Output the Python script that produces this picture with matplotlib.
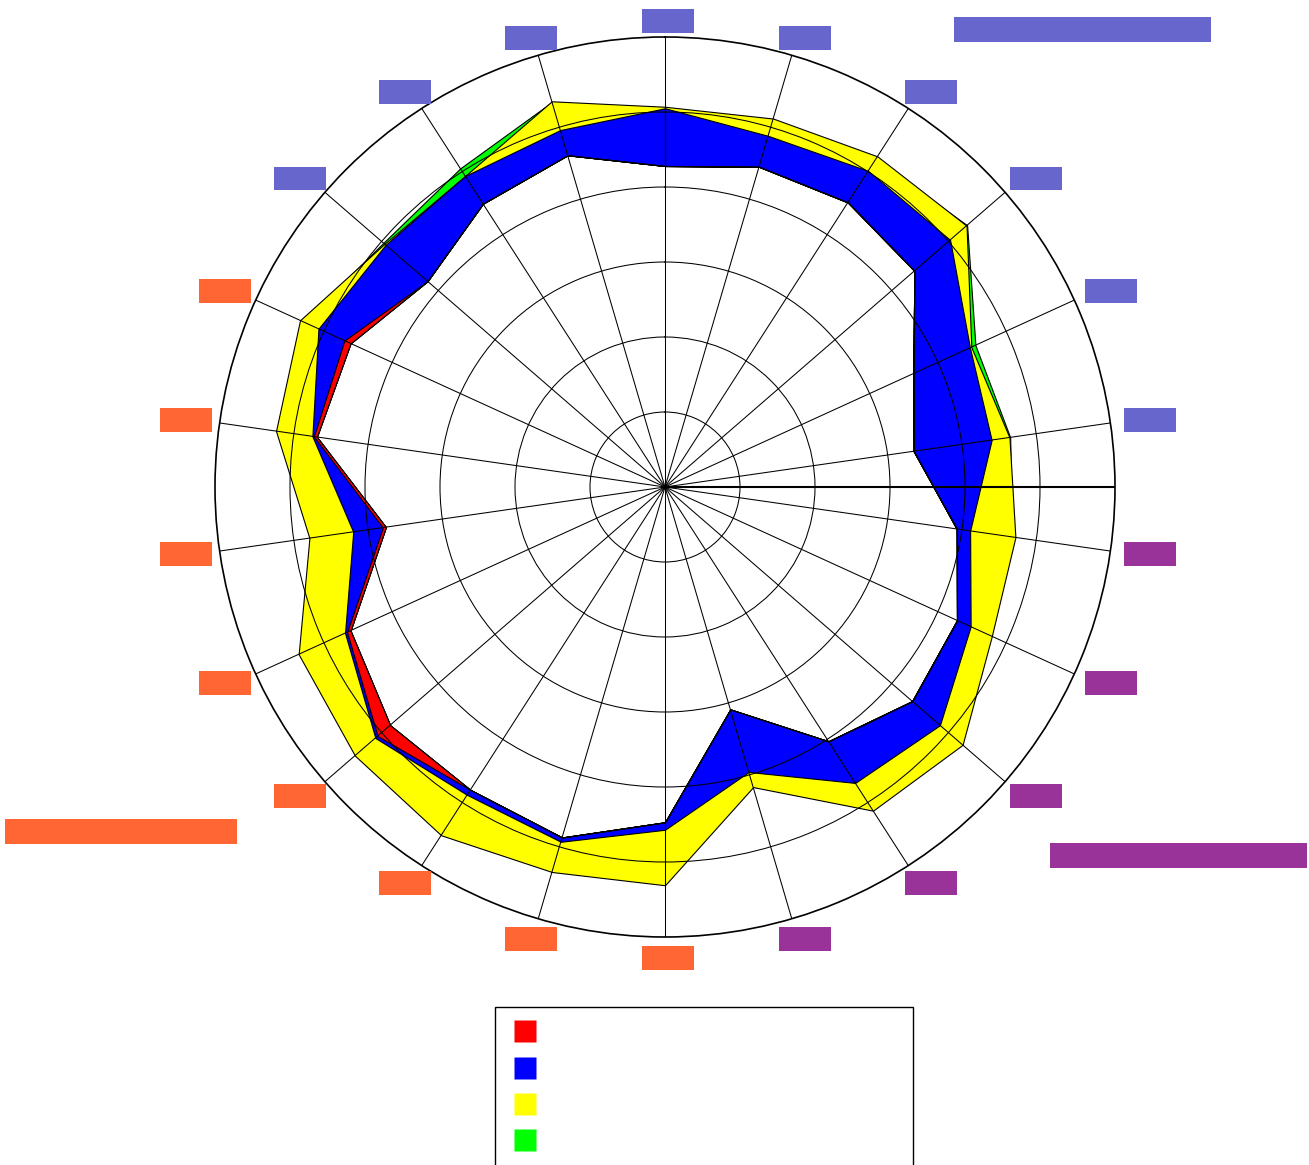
import numpy as np
import matplotlib.pyplot as plt
from matplotlib.lines import Line2D

W, H = 1309, 1165

# spoke categories, clockwise from the top
categories = ["C-01", "C-02", "C-03", "C-04", "C-05", "C-06",
              "C-07", "C-08", "C-09", "C-10", "C-11",
              "C-12", "C-13", "C-14", "C-15", "C-16", "C-17", "C-18", "C-19",
              "C-20", "C-21", "C-22"]
label_colors = (["#6666CC"] * 6 + ["#993399"] * 5 +
                ["#FF6633"] * 8 + ["#6666CC"] * 3)

group_names = ["Group A - first block",
               "Group B - second set",
               "Group C - third set"]
group_colors = ["#6666CC", "#993399", "#FF6633"]
group_pos_px = [(1082.5, 29.5), (1178.5, 855.5), (121, 831.5)]
group_box_px = [(257, 25), (257, 25), (230, 25)]

series_names = ["Series A", "Series B", "Series C", "Series D"]
series_colors = ["#FF0000", "#0000FF", "#FFFF00", "#00FF00"]

# inner edge shared by all bands
base = [42.8, 44.5, 45.1, 44.0, 36.4, 33.5, 39.3, 42.8, 43.6, 40.3, 30.9,
        44.7, 48.7, 48.0, 48.5, 46.1, 37.6, 46.9, 46.1, 41.9, 44.9, 46.1]
red_top = [42.8, 44.5, 45.1, 44.0, 36.4, 33.5, 39.3, 42.8, 43.6, 40.3, 30.9,
           44.7, 48.7, 48.0, 50.7, 46.6, 38.0, 47.3, 47.0, 41.9, 44.9, 46.1]
blue_top = [50.5, 48.8, 50.1, 50.3, 44.7, 44.0, 41.1, 44.8, 48.5, 46.9, 39.6,
            45.7, 49.3, 48.8, 51.1, 46.9, 42.0, 47.5, 50.8, 49.3, 49.3, 49.6]
yellow_top = [50.7, 51.2, 52.4, 53.2, 44.9, 46.4, 47.2, 47.9, 52.5, 51.3, 41.7,
              53.1, 53.5, 55.2, 54.7, 53.7, 47.9, 52.4, 53.5, 49.5, 49.3, 53.6]
green_top = [50.2, 50.7, 51.9, 53.3, 45.5, 46.5, 46.7, 47.4, 52.0, 50.8, 41.2,
             52.6, 53.0, 54.7, 54.2, 53.2, 47.4, 51.9, 53.0, 49.7, 50.5, 53.5]

theta = np.linspace(0, 2 * np.pi, len(categories), endpoint=False)

fig = plt.figure(figsize=(W / 100, H / 100), dpi=100)
ax = fig.add_axes([215 / W, 228 / H, 900 / W, 900 / H], projection="polar")
ax.set_theta_offset(np.pi / 2)
ax.set_theta_direction(-1)
ax.set_ylim(0, 60)


def band(lo, hi, color, z):
    t = np.append(theta, theta[0] + 2 * np.pi)
    lo = np.append(lo, lo[0])
    hi = np.append(hi, hi[0])
    ax.fill_between(t, lo, hi, facecolor=color, edgecolor="black",
                    lw=0.8, zorder=z)


def box_font(text, w, h):
    # mono font size (pt) and pad so the coloured box is w x h pixels
    f = (w - h) / (len(text) * 0.602 - 0.975)
    pad = (h - 0.975 * f) / 2 / f
    return f * 0.72, pad


band(base, green_top, series_colors[3], 1.0)
band(base, yellow_top, series_colors[2], 1.1)
band(base, blue_top, series_colors[1], 1.2)
band(base, red_top, series_colors[0], 1.3)

ax.set_xticks(theta)
ax.set_xticklabels([])
ax.set_yticks([10, 20, 30, 40, 50])
ax.set_yticklabels([])
ax.tick_params(length=0)
ax.set_axisbelow(False)
ax.grid(True, color="black", lw=0.75)
ax.spines["polar"].set_color("black")
ax.spines["polar"].set_linewidth(1.2)
# radial axis line
ax.plot([np.pi / 2, np.pi / 2], [0, 60], color="black", lw=1.5, zorder=3)

# spoke labels
for ang, name, col in zip(theta, categories, label_colors):
    a = np.pi / 2 - ang
    s = np.sin(a)
    dx = 26 * np.cos(a) + 3
    dy = 10 * s * (1 - 0.5 * s ** 8) if s > 0 else 10 * s
    fs, pad = box_font(name, 52, 24)
    ax.annotate(name, xy=(ang, 61.5), xytext=(dx * 0.72, dy * 0.72),
                textcoords="offset points", ha="center", va="center",
                family="DejaVu Sans Mono", fontsize=fs, color=col,
                bbox=dict(boxstyle=f"square,pad={pad:.3f}", fc=col, ec="none"),
                annotation_clip=False)

# group labels
for name, col, (px, py), (bw, bh) in zip(group_names, group_colors,
                                         group_pos_px, group_box_px):
    fs, pad = box_font(name, bw, bh)
    fig.text(px / W, 1 - py / H, name, ha="center", va="center",
             family="DejaVu Sans Mono", fontsize=fs, color=col,
             bbox=dict(boxstyle=f"square,pad={pad:.3f}", fc=col, ec="none"))

handles = [Line2D([], [], ls="none", marker="s", markersize=23 * 0.72,
                  mfc=c, mec="none") for c in series_colors]
leg = fig.legend(handles, series_names, loc="upper left",
                 bbox_to_anchor=(495 / W, 0, 418 / W, 1 - 1007 / H),
                 mode="expand", borderaxespad=0, fontsize=14.4,
                 labelcolor="white", handlelength=28 / 20, handleheight=23 / 20,
                 labelspacing=0.78, borderpad=0.8, fancybox=False,
                 edgecolor="black", framealpha=1)
leg.get_frame().set_linewidth(1.0)

fig.savefig("out.png", dpi=100)
